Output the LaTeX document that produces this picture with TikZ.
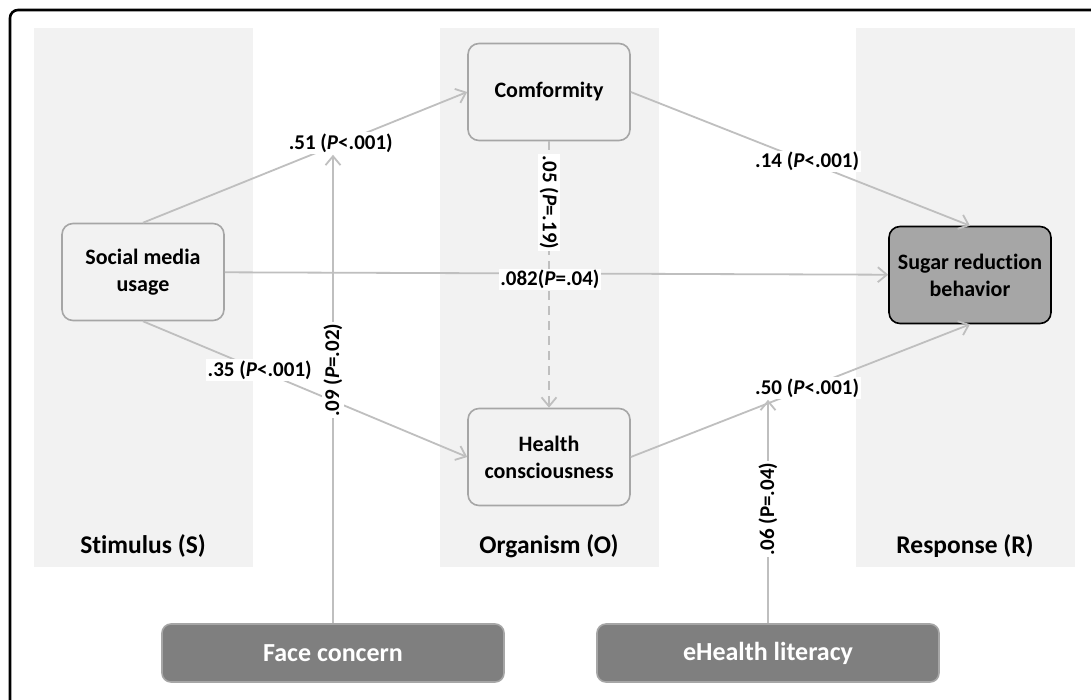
\documentclass[tikz,border=0pt]{standalone}
\usepackage{fontspec}
\setmainfont[Ligatures=NoCommon]{Carlito}
\usetikzlibrary{positioning,
        arrows.meta}
\usepackage{xcolor}
\definecolor{panel}{HTML}{F2F2F2}
\definecolor{linkgray}{HTML}{BFBFBF}
\definecolor{boxgray}{HTML}{A6A6A6}
\definecolor{darkbox}{HTML}{7F7F7F}

\tikzset{
        construct/.style={draw=boxgray,line width=1.6pt,fill=panel,rounded corners=11pt,
                minimum width=162pt,minimum height=97pt,align=center,
                font=\bfseries\fontsize{22}{27}\selectfont},
        moderator/.style={draw=boxgray,line width=1.6pt,fill=darkbox,rounded corners=9pt,
                minimum width=342pt,minimum height=58pt,text=white,
                font=\bfseries\fontsize{26}{30}\selectfont},
        link/.style={draw=linkgray,line width=1.8pt,-{Straight Barb[length=9pt,width=15pt]}},
        coef/.style={fill=white,inner sep=1.5pt,font=\bfseries\fontsize{21}{24}\selectfont},
        vcoef/.style={coef},
        stage/.style={font=\bfseries\fontsize{25.5}{30}\selectfont}
}

\begin{document}
\begin{tikzpicture}[x=1pt,y=-1pt]
        \useasboundingbox (0,0) rectangle (1091,699);
        \fill[white] (0,0) rectangle (1091,699);
        \draw[line width=2.6pt,rounded corners=8pt] (10,10) rectangle (1110,730);

        % S-O-R columns
        \fill[panel] (34,28) rectangle (253,567);
        \fill[panel] (440,28) rectangle (659,567);
        \fill[panel] (856,28) rectangle (1075,567);
        \node [stage] (s) at (143,546) {Stimulus (S)};
        \node [stage] (o) at (549,546) {Organism (O)};
        \node [stage] (r) at (965,546) {Response (R)};

        \node [construct] (smu) at (143,272) {Social media\\usage};
        \node [construct] (conf) at (549,92) {Comformity};
        \node [construct] (hc) at (549,457) {Health\\consciousness};
        \node [construct,draw=black,fill=boxgray] (srb) at (970,275) {Sugar reduction\\behavior};
        \node [moderator] (face) at (333,653) {Face concern};
        \node [moderator] (ehl) at (768,653) {eHealth literacy};

        \draw [link,dash pattern=on 9pt off 6pt] (conf) -- (hc)
                node [vcoef,rotate=-90,pos=0.23] (l05) {.05 (\textit{P}=.19)};
        \draw [link] (smu) -- (srb)
                node [coef,pos=0.49,yshift=-6pt] (l082) {.082(\textit{P}=.04)};
        \draw [link] (smu.north) -- (conf.west)
                node [coef,pos=0.61] (l51) {.51 (\textit{P}<.001)};
        \draw [link] (conf.east) -- (srb.north)
                node [coef,pos=0.52] (l14) {.14 (\textit{P}<.001)};
        \draw [link] (smu.south) -- (hc.west)
                node [coef,pos=0.36] (l35) {.35 (\textit{P}<.001)};
        \draw [link] (hc.east) -- (srb.south)
                node [coef,pos=0.52] (l50) {.50 (\textit{P}<.001)};
        \draw [link] (face.north) -- (face.north |- l51.south)
                node [vcoef,rotate=90,pos=0.54] (l09) {.09 (\textit{P}=.02)};
        \draw [link] (ehl.north) -- (ehl.north |- l50.south)
                node [vcoef,rotate=90,pos=0.51] (l06) {.06 (P=.04)};
\end{tikzpicture}
\end{document}
